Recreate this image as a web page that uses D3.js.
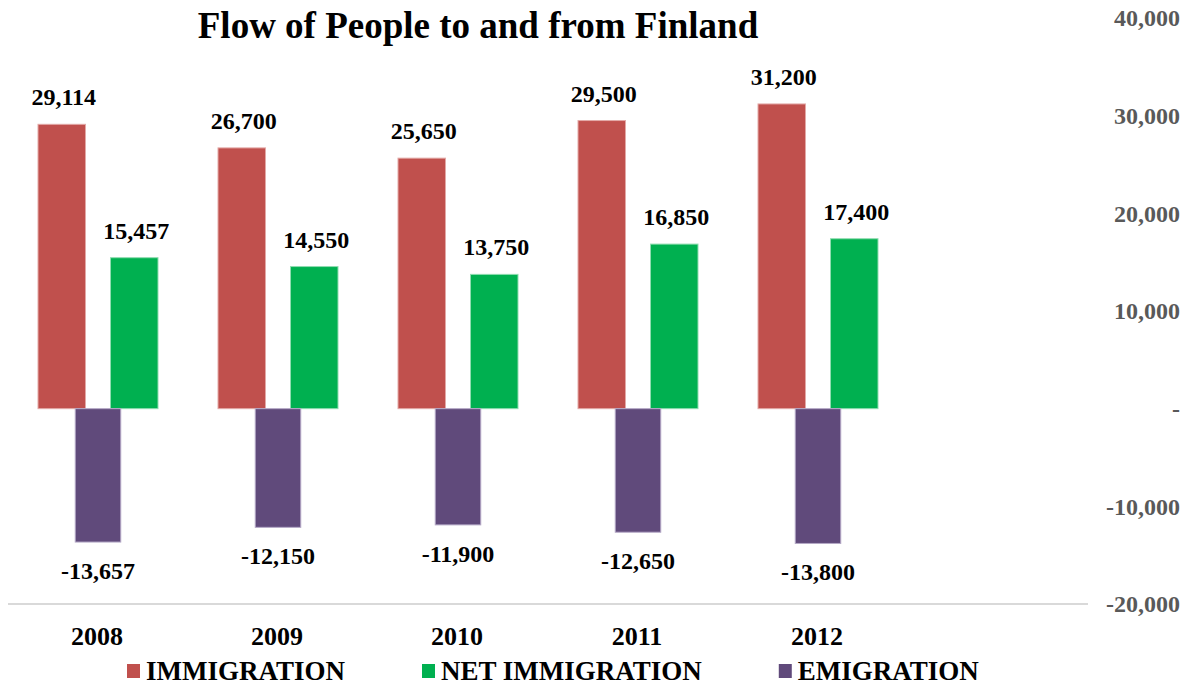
<!DOCTYPE html>
<html>
<head>
<meta charset="utf-8">
<script src="https://cdn.jsdelivr.net/npm/d3@7"></script>
<style>
  body { margin: 0; background: #fff; }
  text { font-family: "Liberation Serif", "Times New Roman", serif; font-weight: bold; }
</style>
</head>
<body>
<div id="chart"></div>
<script>
// chart values
const years = ["2008", "2009", "2010", "2011", "2012"];
const immigration = [29114, 26700, 25650, 29500, 31200];
const netImmigration = [15457, 14550, 13750, 16850, 17400];
const emigration = [-13657, -12150, -11900, -12650, -13800];
const yTicks = [40000, 30000, 20000, 10000, 0, -10000, -20000];
const seriesNames = ["IMMIGRATION", "NET IMMIGRATION", "EMIGRATION"];
const seriesColors = ["#C0504D", "#00B050", "#604A7B"];
const seriesStrokes = ["#E3A9A7", "#8FDDB0", "#B4A8C6"];

const width = 1199, height = 686;

const svg = d3.select("#chart")
    .append("svg")
    .attr("width", width)
    .attr("height", height);

// one empty slot on the right, like the original workbook
const x = d3.scaleBand()
    .domain(years.concat([""]))
    .range([8, 1088])
    .padding(0);

const xSub = d3.scaleBand()
    .domain(["imm", "net"])
    .range([30, 150])
    .paddingInner(0.345);

const y = d3.scaleLinear()
    .domain([-20000, 40000])
    .range([604, 18]);

// excel style: plain hyphen for negatives
const fmt = v => d3.format(",")(v).replace("\u2212", "-");

// bottom axis line
svg.append("line")
    .attr("x1", x.range()[0])
    .attr("x2", x.range()[1])
    .attr("y1", y(-20000))
    .attr("y2", y(-20000))
    .attr("stroke", "#D9D9D9")
    .attr("stroke-width", 2);

// right axis labels
svg.append("g")
    .selectAll("text")
    .data(yTicks)
    .join("text")
    .attr("x", 1180)
    .attr("y", d => y(d))
    .attr("dy", "0.35em")
    .attr("text-anchor", "end")
    .attr("fill", "#595959")
    .style("font-size", "24px")
    .text(d => d === 0 ? "-" : fmt(d));

// title
svg.append("text")
    .attr("x", 478)
    .attr("y", 38)
    .attr("text-anchor", "middle")
    .attr("fill", "#000")
    .style("font-size", "37px")
    .text("Flow of People to and from Finland");

const rows = years.map((yr, i) => ({
    year: yr, imm: immigration[i], net: netImmigration[i], emi: emigration[i]
}));

// immigration + net immigration bars
const pos = [
    {key: "imm", color: seriesColors[0], stroke: seriesStrokes[0]},
    {key: "net", color: seriesColors[1], stroke: seriesStrokes[1]}
];

pos.forEach(s => {
    svg.append("g")
        .selectAll("rect")
        .data(rows)
        .join("rect")
        .attr("x", d => x(d.year) + xSub(s.key))
        .attr("y", d => y(d[s.key]))
        .attr("width", xSub.bandwidth())
        .attr("height", d => y(0) - y(d[s.key]))
        .attr("fill", s.color)
        .attr("stroke", s.stroke)
        .attr("stroke-width", 1);

    svg.append("g")
        .selectAll("text")
        .data(rows)
        .join("text")
        .attr("x", d => x(d.year) + xSub(s.key) + xSub.bandwidth() / 2 + 2)
        .attr("y", d => y(d[s.key]) - 19)
        .attr("text-anchor", "middle")
        .attr("fill", "#000")
        .style("font-size", "24px")
        .text(d => fmt(d[s.key]));
});

// emigration, drawn centred in each year (secondary series)
const emiW = 45.5;
svg.append("g")
    .selectAll("rect")
    .data(rows)
    .join("rect")
    .attr("x", d => x(d.year) + x.bandwidth() / 2 - emiW / 2)
    .attr("y", y(0))
    .attr("width", emiW)
    .attr("height", d => y(d.emi) - y(0))
    .attr("fill", seriesColors[2])
    .attr("stroke", seriesStrokes[2])
    .attr("stroke-width", 1);

svg.append("g")
    .selectAll("text")
    .data(rows)
    .join("text")
    .attr("x", d => x(d.year) + x.bandwidth() / 2)
    .attr("y", d => y(d.emi) + 37)
    .attr("text-anchor", "middle")
    .attr("fill", "#000")
    .style("font-size", "24px")
    .text(d => fmt(d.emi));

// year labels
svg.append("g")
    .selectAll("text")
    .data(years)
    .join("text")
    .attr("x", d => x(d) + x.bandwidth() / 2 - 1)
    .attr("y", 645)
    .attr("text-anchor", "middle")
    .attr("fill", "#000")
    .style("font-size", "26px")
    .text(d => d);

// legend
const legend = svg.append("g");
let lx = 127;
seriesNames.forEach((name, i) => {
    legend.append("rect")
        .attr("x", lx)
        .attr("y", 664)
        .attr("width", 13)
        .attr("height", 14)
        .attr("fill", seriesColors[i]);
    const t = legend.append("text")
        .attr("x", lx + 19)
        .attr("y", 680)
        .attr("fill", "#000")
        .style("font-size", "27px")
        .text(name);
    lx += 19 + t.node().getComputedTextLength() + 77;
});
</script>
</body>
</html>
